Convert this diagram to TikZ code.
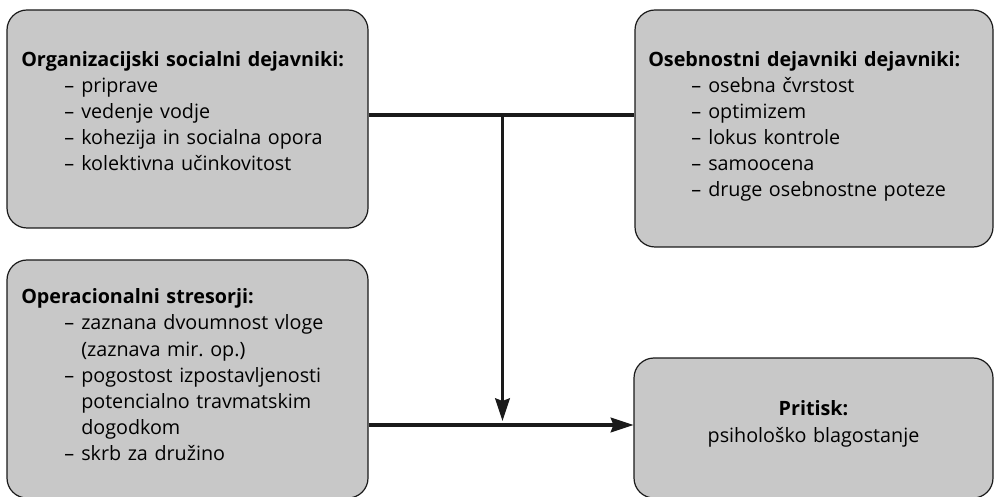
\documentclass[tikz,border=0pt]{standalone}
\usepackage{fontspec}
\setmainfont{Open Sans}
\usetikzlibrary{arrows.meta, positioning, calc}
\definecolor{boxgray}{RGB}{200, 200, 200}
\definecolor{inkblack}{RGB}{26, 26, 26}
% dash item: dash at 43px, text at 60px from the header start
\newcommand{\dashitem}{\makebox[45pt][l]{\hspace*{32.25pt}–}}
\newcommand{\contline}{\hspace*{45pt}}

\begin{document}
\begin{tikzpicture}[x=0.75pt, y=0.75pt,
    factorbox/.style={draw=inkblack, line width=0.9pt, fill=boxgray, rounded corners=15pt, inner sep=0pt},
    boxtext/.style={inner sep=0pt, text width=260pt, align=left, anchor=base west, font=\fontsize{14.8}{19.5}\selectfont},
    flow/.style={draw=inkblack, line width=2.3pt},
    flowarrow/.style={flow, -{Stealth[length=17pt, width=11pt, inset=2pt]}}]
  \useasboundingbox (0,0) rectangle (994,496);

  % ===== 方框 =====
  \node[factorbox, minimum width=361*0.75pt, minimum height=218*0.75pt] (org) at (187.5, 377) {};
  \node[factorbox, minimum width=358*0.75pt, minimum height=237*0.75pt] (pers) at (814, 367.5) {};
  \node[factorbox, minimum width=361*0.75pt, minimum height=238*0.75pt] (oper) at (187.5, 117) {};
  \node[factorbox, minimum width=359*0.75pt, minimum height=140*0.75pt] (strain) at (813.5, 68) {};

  % ===== 文本 =====
  \node[boxtext] (orgtext) at (21, 429) {%
    \textbf{Organizacijski socialni dejavniki:}\\
    \dashitem priprave\\
    \dashitem vedenje vodje\\
    \dashitem kohezija in socialna opora\\
    \dashitem kolektivna učinkovitost};
  \node[boxtext] (perstext) at (648, 429) {%
    \textbf{Osebnostni dejavniki dejavniki:}\\
    \dashitem osebna čvrstost\\
    \dashitem optimizem\\
    \dashitem lokus kontrole\\
    \dashitem samoocena\\
    \dashitem druge osebnostne poteze};
  \node[boxtext] (opertext) at (21, 192) {%
    \textbf{Operacionalni stresorji:}\\
    \dashitem zaznana dvoumnost vloge\\
    \contline (zaznava mir.\ op.)\\
    \dashitem pogostost izpostavljenosti\\
    \contline potencialno travmatskim\\
    \contline dogodkom\\
    \dashitem skrb za družino};
  \node[boxtext, anchor=base, align=center, font=\fontsize{14.8}{20.25}\selectfont] (straintext) at (strain.center |- 0,81) {%
    \textbf{Pritisk:}\\
    psihološko blagostanje};

  % ===== 连线 =====
  \coordinate (junc) at (502.5, 381);
  \coordinate (meet) at (502.5, 71);
  \draw[flow] (org.east |- junc) -- (pers.west |- junc);
  \draw[flowarrow, shorten >=3pt] (junc) -- (meet);
  \draw[flowarrow] (oper.east |- meet) -- (strain.west |- meet);
\end{tikzpicture}
\end{document}
